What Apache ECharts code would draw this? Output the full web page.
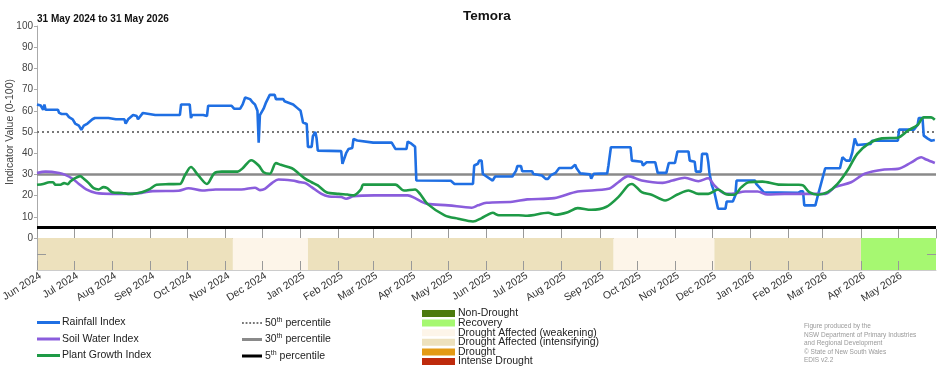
<!DOCTYPE html>
<html><head><meta charset="utf-8">
<script src="https://cdn.jsdelivr.net/npm/echarts@6/dist/echarts.min.js"></script>
<style>html,body{margin:0;padding:0;background:#fff}#c{width:952px;height:370px}</style>
</head><body><div id="c"></div>
<script>
const TITLE = 'Temora';
const SUBTITLE = '31 May 2024 to 31 May 2026';
const START = '2024-06-01';
const END = '2026-05-31 23:00:00';

const rainfall = [['2024-06-01',63],['2024-06-04',62.5],['2024-06-06',60.5],['2024-06-07',63],['2024-06-08',60.5],['2024-06-18',60.5],['2024-06-19',59],['2024-06-21',58.5],['2024-06-25',58.5],['2024-06-27',57],['2024-06-30',56],['2024-07-02',54],['2024-07-05',53],['2024-07-07',51],['2024-07-09',53],['2024-07-12',54],['2024-07-16',56],['2024-07-18',56.6],['2024-07-29',56.6],['2024-08-04',56],['2024-08-11',56],['2024-08-12',54],['2024-08-14',56],['2024-08-18',58],['2024-08-21',57.5],['2024-08-22',56],['2024-08-26',59],['2024-09-05',58],['2024-09-25',58],['2024-09-26',63],['2024-10-03',63],['2024-10-04',56.6],['2024-10-05',58],['2024-10-14',58],['2024-10-17',57.5],['2024-10-18',62.4],['2024-11-06',62.4],['2024-11-08',61],['2024-11-13',61],['2024-11-15',63],['2024-11-17',66.3],['2024-11-21',65.5],['2024-11-23',64],['2024-11-25',63],['2024-11-27',60],['2024-11-28',45],['2024-11-29',58],['2024-12-02',61],['2024-12-04',64],['2024-12-07',67.5],['2024-12-11',67.5],['2024-12-12',65.5],['2024-12-18',65.5],['2024-12-19',64.5],['2024-12-26',63],['2024-12-29',61.5],['2025-01-01',60],['2025-01-03',54.5],['2025-01-06',53.8],['2025-01-07',43],['2025-01-10',43],['2025-01-11',48],['2025-01-13',50],['2025-01-14',47],['2025-01-15',41.2],['2025-02-03',41],['2025-02-04',35],['2025-02-05',35],['2025-02-07',40],['2025-02-09',42],['2025-02-12',42.5],['2025-02-13',46.7],['2025-02-16',46],['2025-03-01',45],['2025-03-16',45],['2025-03-19',42],['2025-03-28',42],['2025-03-29',45.5],['2025-04-01',44.5],['2025-04-04',43],['2025-04-05',27.1],['2025-05-03',27],['2025-05-06',25.5],['2025-05-21',25.5],['2025-05-22',34.2],['2025-05-25',35],['2025-05-26',36.5],['2025-05-28',36.5],['2025-05-29',30.2],['2025-06-06',27.1],['2025-06-08',29],['2025-06-22',29],['2025-06-25',31.8],['2025-06-26',33.9],['2025-06-29',33.9],['2025-06-30',31.5],['2025-07-08',31.5],['2025-07-09',30.2],['2025-07-16',29.5],['2025-07-19',27.9],['2025-07-21',27.9],['2025-07-23',29.5],['2025-07-27',30.7],['2025-07-30',33],['2025-08-09',33],['2025-08-12',34.6],['2025-08-13',33],['2025-08-16',30.5],['2025-08-24',30],['2025-08-25',28],['2025-08-27',30.3],['2025-09-07',30.5],['2025-09-08',34.2],['2025-09-10',42.8],['2025-09-26',42.8],['2025-09-27',36.5],['2025-10-05',36],['2025-10-06',34.2],['2025-10-09',35.7],['2025-10-16',35.7],['2025-10-18',30.7],['2025-10-25',30.7],['2025-10-27',35.4],['2025-11-01',35.4],['2025-11-03',40.8],['2025-11-12',40.8],['2025-11-13',36.5],['2025-11-17',36],['2025-11-18',31.3],['2025-11-22',31.3],['2025-11-23',39.7],['2025-11-27',39.7],['2025-11-28',36],['2025-11-29',30.7],['2025-12-01',24.8],['2025-12-03',21.6],['2025-12-06',13.8],['2025-12-12',13.8],['2025-12-13',17.2],['2025-12-18',17.2],['2025-12-20',20],['2025-12-21',27.1],['2026-01-05',27.1],['2026-01-06',25.5],['2026-01-12',21.6],['2026-01-13',20.8],['2026-02-09',21.3],['2026-02-11',22],['2026-02-13',22],['2026-02-14',15.4],['2026-02-23',15.4],['2026-02-25',20],['2026-02-26',20],['2026-03-03',32.9],['2026-03-15',32.9],['2026-03-17',38.1],['2026-03-20',36.5],['2026-03-23',36.5],['2026-03-25',40.4],['2026-03-27',47],['2026-03-29',43.9],['2026-04-09',44.4],['2026-04-10',45.9],['2026-05-01',45.9],['2026-05-02',51.1],['2026-05-14',51.1],['2026-05-17',53.3],['2026-05-18',56.6],['2026-05-21',56.6],['2026-05-22',48.3],['2026-05-25',47],['2026-05-28',45.9],['2026-05-31',46.2]];

const soilWater = [['2024-06-01',30.7],['2024-06-08',31.3],['2024-06-19',30.7],['2024-06-24',29.8],['2024-06-30',27.9],['2024-07-05',25.5],['2024-07-11',22.9],['2024-07-19',21.2],['2024-08-01',20.8],['2024-08-14',20.8],['2024-08-25',21.3],['2024-09-03',22.1],['2024-09-24',22.3],['2024-10-02',23.5],['2024-10-13',22.4],['2024-10-24',22.9],['2024-11-14',22.9],['2024-11-25',23.7],['2024-11-29',22.6],['2024-12-03',23.2],['2024-12-09',26],['2024-12-14',27.6],['2024-12-25',27.1],['2025-01-01',26.3],['2025-01-05',25.9],['2025-01-10',24],['2025-01-18',20.8],['2025-01-24',19.6],['2025-02-03',19.3],['2025-02-07',18.5],['2025-02-13',19.7],['2025-03-02',20.1],['2025-03-29',20.1],['2025-04-04',18.8],['2025-04-09',17.2],['2025-04-14',16.1],['2025-05-01',15.4],['2025-05-20',14.3],['2025-05-25',15.4],['2025-06-01',16.6],['2025-06-22',17.1],['2025-07-04',18.2],['2025-07-26',18.8],['2025-08-14',21.9],['2025-09-08',23.2],['2025-09-16',26.3],['2025-09-24',29.2],['2025-10-05',27.1],['2025-10-22',26],['2025-10-30',27.1],['2025-11-09',28.4],['2025-11-20',26.8],['2025-11-28',28.2],['2025-12-03',24.8],['2025-12-10',21.3],['2025-12-17',20.8],['2025-12-28',21.9],['2026-01-07',21.9],['2026-01-15',20.5],['2026-01-29',20.8],['2026-03-03',20.8],['2026-03-11',24],['2026-03-24',26.3],['2026-04-04',30.3],['2026-04-20',32.3],['2026-05-01',32.6],['2026-05-12',35.7],['2026-05-20',38.1],['2026-05-24',37],['2026-05-31',35.4]];

const plantGrowth = [['2024-06-01',25.1],['2024-06-06',25.5],['2024-06-11',26.3],['2024-06-14',26.3],['2024-06-16',25.1],['2024-06-20',25.1],['2024-06-23',25.9],['2024-06-26',25.4],['2024-06-28',26.6],['2024-07-02',28.2],['2024-07-06',29.2],['2024-07-09',27.9],['2024-07-13',25.9],['2024-07-17',23.5],['2024-07-21',22.9],['2024-07-25',24],['2024-07-28',23.5],['2024-08-01',21.6],['2024-08-09',21.2],['2024-08-16',20.8],['2024-08-25',21.6],['2024-08-31',22.9],['2024-09-06',25.1],['2024-09-16',25.4],['2024-09-25',25.5],['2024-09-29',29.5],['2024-10-04',33.5],['2024-10-10',29.5],['2024-10-17',25.5],['2024-10-23',30.6],['2024-10-29',31.3],['2024-11-11',31.3],['2024-11-15',32.9],['2024-11-22',36.7],['2024-11-28',34.2],['2024-12-02',31],['2024-12-07',30.3],['2024-12-12',35.3],['2024-12-16',34.5],['2024-12-25',32.9],['2024-12-30',30.7],['2025-01-05',27.9],['2025-01-10',26.3],['2025-01-15',24.8],['2025-01-22',21.6],['2025-02-01',20.8],['2025-02-08',20.5],['2025-02-13',20.1],['2025-02-19',22.9],['2025-02-21',25.2],['2025-03-19',25.2],['2025-03-26',22.4],['2025-04-04',22.9],['2025-04-08',20.8],['2025-04-14',16.1],['2025-04-28',10.7],['2025-05-09',9.1],['2025-05-21',7.8],['2025-05-28',9.4],['2025-06-01',10.7],['2025-06-06',11.9],['2025-06-11',10.7],['2025-06-27',10.7],['2025-07-04',10.5],['2025-07-21',11.9],['2025-07-27',11],['2025-08-06',12.2],['2025-08-14',14.1],['2025-08-25',13.3],['2025-09-06',14.6],['2025-09-16',19.3],['2025-09-24',24.8],['2025-09-27',25.5],['2025-10-05',21.6],['2025-10-13',20.4],['2025-10-24',17.7],['2025-11-03',20.5],['2025-11-12',22.4],['2025-11-20',20.8],['2025-11-28',20.8],['2025-12-06',22.9],['2025-12-12',20.8],['2025-12-19',20.4],['2025-12-25',24],['2025-12-31',26.3],['2026-01-11',26.6],['2026-01-24',25.2],['2026-02-09',25.1],['2026-02-13',24.8],['2026-02-18',21.6],['2026-02-25',20.4],['2026-03-05',21.6],['2026-03-13',25.5],['2026-03-21',31.8],['2026-03-29',39.7],['2026-04-07',44.4],['2026-04-18',47],['2026-05-01',47.3],['2026-05-09',50.6],['2026-05-17',53.3],['2026-05-22',56.9],['2026-05-28',56.9],['2026-05-31',55.8]];

const percentileNames = ['50th percentile', '30th percentile', '5th percentile'];
const percentileValues = [50, 30, 5];

const droughtCategories = ['Non-Drought', 'Recovery', 'Drought Affected (weakening)', 'Drought Affected (intensifying)', 'Drought', 'Intense Drought'];
const bandStarts = ['2024-06-01', '2024-11-07', '2025-01-07', '2025-09-12', '2025-12-03', '2026-04-01'];
const bandEnds   = ['2024-11-07', '2025-01-07', '2025-09-12', '2025-12-03', '2026-04-01', '2026-06-01'];
const bandClass  = [3, 2, 3, 2, 3, 1];

const credits = ['Figure produced by the', 'NSW Department of Primary Industries', 'and Regional Development', '\u00A9 State of New South Wales', 'EDIS v2.2'];

const monthNames = ['Jan','Feb','Mar','Apr','May','Jun','Jul','Aug','Sep','Oct','Nov','Dec'];
const droughtColors = ['#4C7A0E', '#A6F871', '#FDF5E9', '#EDE1BD', '#E39A14', '#BE2A0C'];
const FONT = '"Liberation Sans", Arial, sans-serif';
const DOTTED_ICON = 'path://M0,0h2v2h-2zM4,0h2v2h-2zM8,0h2v2h-2zM12,0h2v2h-2zM16,0h2v2h-2zM20,0h2v2h-2z';

const chart = echarts.init(document.getElementById('c'), null, {renderer: 'canvas'});
const parse = s => +echarts.number.parseDate(s);
const DAY = 86400000;

const series = [];
const pStyles = [
  {color: '#777', width: 2, type: [2, 3]},
  {color: '#8a8a8a', width: 2.5, type: 'solid'},
  {color: '#000', width: 3, type: 'solid'}
];
percentileValues.forEach((p, i) => {
  series.push({
    name: percentileNames[i], type: 'line', xAxisIndex: 0, yAxisIndex: 0,
    data: [[START, p], [END, p]], symbol: 'none', silent: true, z: 1,
    lineStyle: pStyles[i], itemStyle: {color: pStyles[i].color}
  });
});
[['Rainfall Index', rainfall, '#1F6FE3', false], ['Soil Water Index', soilWater, '#8A5DDC', 0.3], ['Plant Growth Index', plantGrowth, '#1E9A46', 0.3]].forEach(([n, d, c, sm]) => {
  series.push({
    name: n, type: 'line', xAxisIndex: 0, yAxisIndex: 0, data: d, symbol: 'none', smooth: sm, z: 3,
    lineStyle: {color: c, width: 2.6}, itemStyle: {color: c}
  });
});
droughtCategories.forEach((cat, ci) => {
  const data = [];
  bandClass.forEach((k, j) => { if (k === ci) data.push([parse(bandStarts[j]), parse(bandEnds[j]), 0]); });
  series.push({
    name: cat, type: 'custom', xAxisIndex: 1, yAxisIndex: 1, clip: true, z: 2,
    itemStyle: {color: droughtColors[ci]},
    encode: {x: [0, 1], y: 2},
    data: data,
    renderItem: (params, api) => {
      const s = api.coord([api.value(0), 0]);
      const e = api.coord([api.value(1), 0]);
      const h = api.size([0, 1])[1];
      const cs = params.coordSys;
      const x0 = Math.max(s[0], cs.x), x1 = Math.min(e[0], cs.x + cs.width);
      return {type: 'rect', shape: {x: x0, y: s[1] - h / 2, width: x1 - x0, height: h}, style: {fill: droughtColors[ci]}};
    }
  });
});

const xCommon = {
  type: 'time', min: START, max: END, minInterval: 28 * DAY, maxInterval: 31 * DAY, splitNumber: 24,
  splitLine: {show: false}
};

chart.setOption({
  animation: false,
  textStyle: {fontFamily: FONT},
  title: [
    {text: TITLE, left: 487, top: 9, padding: 0, textAlign: 'center', textStyle: {fontSize: 13.5, fontWeight: 'bold', color: '#111', fontFamily: FONT}},
    {text: SUBTITLE, left: 37, top: 14, padding: 0, textStyle: {fontSize: 10, fontWeight: 'bold', color: '#111', fontFamily: FONT}}
  ],
  grid: [
    {left: 37, right: 16, top: 26, height: 212, containLabel: false, outerBoundsMode: 'none'},
    {left: 37, right: 16, top: 238, height: 32, containLabel: false, outerBoundsMode: 'none'}
  ],
  xAxis: [
    Object.assign({}, xCommon, {gridIndex: 0, axisLabel: {show: false},
      axisLine: {show: true, lineStyle: {color: '#aaa', width: 1}},
      axisTick: {show: true, inside: true, length: 9, lineStyle: {color: '#999'}}}),
    Object.assign({}, xCommon, {gridIndex: 1, z: 5,
      axisLine: {show: true, lineStyle: {color: '#ccc', width: 1}},
      axisTick: {show: true, inside: true, length: 9, lineStyle: {color: '#999'}},
      axisLabel: {show: true, rotate: 32, margin: 7, fontSize: 10.5, color: '#333', fontFamily: FONT,
        padding: [0, -4, 0, 0],
        showMinLabel: true, showMaxLabel: false, hideOverlap: false,
        formatter: v => { const d = new Date(v); return monthNames[d.getMonth()] + ' ' + d.getFullYear(); }}})
  ],
  yAxis: [
    {type: 'value', gridIndex: 0, min: 0, max: 100, interval: 10,
      name: 'Indicator Value (0-100)', nameLocation: 'middle', nameGap: 21, nameMoveOverlap: false,
      nameTextStyle: {fontSize: 10.5, color: '#444', fontFamily: FONT},
      axisLine: {show: true, lineStyle: {color: '#aaa'}},
      axisTick: {show: true, length: 3, lineStyle: {color: '#aaa'}},
      axisLabel: {fontSize: 10, color: '#444', margin: 4, fontFamily: FONT},
      splitLine: {show: false}},
    {type: 'category', gridIndex: 1, data: ['band'], position: 'left', z: 5,
      axisLine: {show: true, lineStyle: {color: '#aaa'}},
      axisTick: {show: true, inside: true, alignWithLabel: true, length: 9, lineStyle: {color: '#999'}},
      axisLabel: {show: false}, splitLine: {show: false}},
    {type: 'category', gridIndex: 1, data: ['band'], position: 'right', z: 5,
      axisLine: {show: false},
      axisTick: {show: true, inside: true, alignWithLabel: true, length: 9, lineStyle: {color: '#999'}},
      axisLabel: {show: false}, splitLine: {show: false}}
  ],
  legend: [
    {data: ['Rainfall Index', 'Soil Water Index', 'Plant Growth Index'].map(n => ({name: n, icon: 'rect'})),
      orient: 'vertical', left: 37, top: 316, height: 100, padding: 0,
      itemWidth: 23, itemHeight: 3, itemGap: 3.5, selectedMode: false,
      textStyle: {fontSize: 10.5, color: '#222', fontFamily: FONT, lineHeight: 13, padding: [0, 0, 0, -3]}},
    {data: percentileNames.map((n, i) => ({name: n, icon: i === 0 ? DOTTED_ICON : 'rect'})),
      orient: 'vertical', left: 242, top: 316.5, height: 100, padding: 0,
      itemWidth: 20, itemHeight: 3, itemGap: 3.5, selectedMode: false,
      formatter: n => n.replace(/^(\d+)th/, '$1{sup|th}'),
      textStyle: {fontSize: 10.5, color: '#222', fontFamily: FONT, lineHeight: 13, padding: [0, 0, 0, -2],
        rich: {sup: {fontSize: 7, verticalAlign: 'top', lineHeight: 8, color: '#222', fontFamily: FONT}}}},
    {data: droughtCategories.map(n => ({name: n, icon: 'rect'})),
      orient: 'vertical', left: 422, top: 308, height: 100, padding: 0,
      itemWidth: 33, itemHeight: 7, itemGap: -1.4, selectedMode: false,
      textStyle: {fontSize: 10.5, color: '#222', fontFamily: FONT, lineHeight: 9.5, padding: [0, 0, 0, -2]}}
  ],
  graphic: credits.map((t, i) => ({
    type: 'text', left: 804, top: 323 + i * 8.5,
    style: {text: t, fontSize: 6.5, fill: '#999', fontFamily: FONT}
  })),
  series: series
});
</script></body></html>
